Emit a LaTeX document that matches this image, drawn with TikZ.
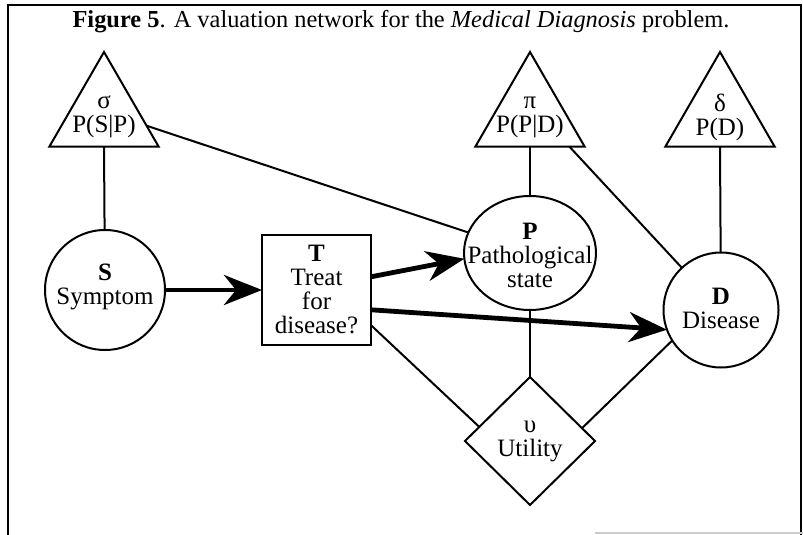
\documentclass[tikz,border=0pt]{standalone}
\usepackage{fontspec}
\setmainfont{Liberation Serif}
\usetikzlibrary{shapes.geometric,arrows.meta,calc}
\begin{document}
\begin{tikzpicture}[x=1pt,y=-1pt,
  shapeline/.style={draw, line width=2pt, inner sep=0pt, outer sep=0pt},
  tri/.style={shapeline, regular polygon, regular polygon sides=3, minimum size=126pt},
  lbl/.style={align=center, font=\fontsize{25}{24}\selectfont, inner sep=0pt},
  link/.style={line width=2pt},
  arr/.style={line width=4.8pt, -{Stealth[length=38pt,width=30pt,inset=12pt]}},
]
\useasboundingbox (0,0) rectangle (803,535);
% frame
\draw[line width=2pt] (8,535) -- (8,5) -- (801,5) -- (801,535);
\draw[line width=1.5pt, gray!40] (595,533) -- (803,533);
% title
\node[font=\fontsize{24.4}{24}\selectfont, inner sep=0pt] (title) at (401,22)
  {\textbf{Figure 5}. A valuation network for the \textit{Medical Diagnosis} problem.};
% valuation triangles
\node[tri] (sig) at (104,115) {};
\node[tri] (pi) at (530,115) {};
\node[tri] (delta) at (720,115) {};
\node[lbl] (sigt) at (104,117) {σ\\P(S|P)};
\node[lbl] (pit) at (530,117) {π\\P(P|D)};
\node[lbl] (deltat) at (720,117) {δ\\P(D)};
% variables
\node[shapeline, circle, minimum size=120pt] (S) at (105,290) {};
\node[lbl] (St) at (105,287) {\textbf{S}\\Symptom};
\node[shapeline, rectangle, minimum width=109pt, minimum height=110pt] (T) at (316.5,290) {};
\node[lbl] (Tt) at (316.5,289) {\textbf{T}\\Treat\\for\\disease?};
\node[shapeline, ellipse, minimum width=132pt, minimum height=114pt] (P) at (530,253) {};
\node[lbl] (Pt) at (530,255) {\textbf{P}\\Pathological\\state};
\node[shapeline, circle, minimum size=115pt] (D) at (721,310) {};
\node[lbl] (Dt) at (721,308) {\textbf{D}\\Disease};
\node[shapeline, diamond, minimum width=130pt, minimum height=128pt] (U) at (530,441) {};
\node[lbl] (Ut) at (530,441) {υ\\Utility};
% links
\draw[link] (sig.side 2) -- (S);
\draw[link] ($(sig.corner 3)!0.22!(sig.corner 1)$) -- (P);
\draw[link] (pi.side 2) -- (P);
\draw[link] ($(pi.corner 3)!0.14!(pi.corner 2)$) -- (D);
\draw[link] (delta.side 2) -- (D);
\draw[link] (P) -- (U.north);
\draw[link] ($(T.south east)!0.18!(T.north east)$) -- ($(U.west)!0.22!(U.north)$);
\draw[link] (D.212) -- ($(U.north)!0.8!(U.east)$);
% arrows
\draw[arr] (S) -- (T);
\draw[arr] ($(T.east)!0.24!(T.north east)$) -- (P.185);
\draw[arr] ($(T.east)!0.36!(T.south east)$) -- (D.200);
\end{tikzpicture}
\end{document}
